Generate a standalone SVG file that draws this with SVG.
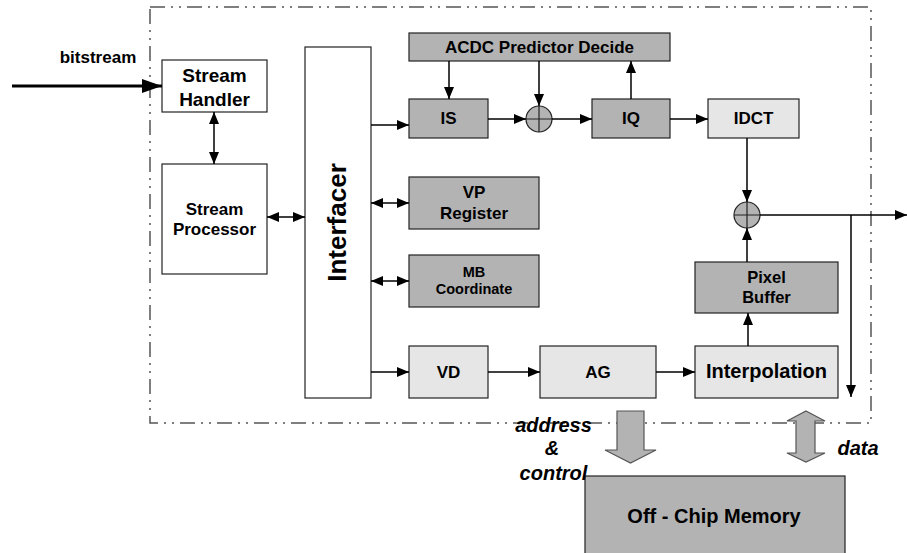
<svg xmlns="http://www.w3.org/2000/svg" width="907" height="553" viewBox="0 0 907 553">
<style>
text{font-family:"Liberation Sans",Arial,sans-serif;font-weight:bold;fill:#000;text-anchor:middle}
.box{stroke:#222;stroke-width:1.2}
.w{fill:#fff}.d{fill:#b3b3b3}.l{fill:#e6e6e6}
.c{stroke:#000;stroke-width:1.5;fill:none}
.a{marker-end:url(#ah)}
.b{marker-start:url(#ah);marker-end:url(#ah)}
.it{font-style:italic;font-size:20px}
.big{fill:#b3b3b3;stroke:#555;stroke-width:1.2}
</style>
<defs>
<marker id="ah" viewBox="0 0 12 10" refX="12" refY="5" markerWidth="12" markerHeight="10" markerUnits="userSpaceOnUse" orient="auto-start-reverse"><path d="M0,0 L12,5 L0,10 z" fill="#000"/></marker>
<marker id="ahb" viewBox="0 0 20 14" refX="20" refY="7" markerWidth="20" markerHeight="14" markerUnits="userSpaceOnUse" orient="auto"><path d="M0,0 L20,7 L0,14 z" fill="#000"/></marker>
</defs>
<rect x="0" y="0" width="907" height="553" fill="#fff"/>
<rect id="boundary" x="150" y="7" width="721" height="416" fill="none" stroke="#555" stroke-width="1.5" stroke-dasharray="15 6 2 6 2 6"/>

<g id="stream-handler"><rect class="box w" x="162" y="60" width="105" height="52"/><text x="214.5" y="81.5" font-size="19">Stream</text><text x="214.5" y="105.5" font-size="19">Handler</text></g>
<g id="stream-processor"><rect class="box w" x="162" y="164" width="105" height="110"/><text x="214.5" y="215" font-size="17">Stream</text><text x="214.5" y="235" font-size="17">Processor</text></g>
<g id="interfacer"><rect class="box w" x="305" y="47" width="66" height="351"/><text transform="translate(346,222.5) rotate(-90)" font-size="26">Interfacer</text></g>
<g id="acdc"><rect class="box d" x="409" y="33" width="261" height="28"/><text x="539.5" y="53" font-size="17">ACDC Predictor Decide</text></g>
<g id="is"><rect class="box d" x="409" y="99" width="79" height="39"/><text x="448.5" y="124" font-size="17">IS</text></g>
<g id="adder1"><circle cx="539" cy="119" r="13" fill="#b3b3b3" stroke="#222" stroke-width="1.2"/><path d="M526,119 H552 M539,106 V132" stroke="#222" stroke-width="1.2"/></g>
<g id="iq"><rect class="box d" x="592" y="99" width="78" height="39"/><text x="631" y="124" font-size="17">IQ</text></g>
<g id="idct"><rect class="box l" x="708" y="99" width="91" height="39"/><text x="753.5" y="124" font-size="17">IDCT</text></g>
<g id="vp-register"><rect class="box d" x="409" y="177" width="130" height="52"/><text x="474" y="198" font-size="17">VP</text><text x="474" y="219" font-size="17">Register</text></g>
<g id="mb-coordinate"><rect class="box d" x="409" y="255" width="130" height="52"/><text x="474" y="277" font-size="14.5">MB</text><text x="474" y="294" font-size="14.5">Coordinate</text></g>
<g id="vd"><rect class="box l" x="409" y="346" width="79" height="52"/><text x="448.5" y="378" font-size="17">VD</text></g>
<g id="ag"><rect class="box l" x="540" y="346" width="116" height="52"/><text x="598" y="378" font-size="17">AG</text></g>
<g id="interpolation"><rect class="box l" x="695" y="346" width="143" height="52"/><text x="766.5" y="378" font-size="20">Interpolation</text></g>
<g id="pixel-buffer"><rect class="box d" x="695" y="262" width="143" height="51"/><text x="766.5" y="283" font-size="16.5">Pixel</text><text x="766.5" y="303" font-size="16.5">Buffer</text></g>
<g id="adder2"><circle cx="747" cy="215" r="13" fill="#b3b3b3" stroke="#222" stroke-width="1.2"/><path d="M734,215 H760 M747,202 V228" stroke="#222" stroke-width="1.2"/></g>
<g id="off-chip-memory"><rect class="box d" x="585" y="476" width="260" height="80"/><text x="714" y="523" font-size="20">Off - Chip Memory</text></g>

<g id="connectors">
<path d="M12,86 H162" stroke="#000" stroke-width="3" fill="none" marker-end="url(#ahb)"/>
<path class="c b" d="M214,112 V164"/>
<path class="c b" d="M267,217 H305"/>
<path class="c a" d="M371,125 H409"/>
<path class="c b" d="M371,203 H409"/>
<path class="c b" d="M371,281 H409"/>
<path class="c a" d="M371,372 H409"/>
<path class="c a" d="M449,61 V99"/>
<path class="c a" d="M539,61 V106"/>
<path class="c a" d="M488,119 H526"/>
<path class="c a" d="M552,119 H592"/>
<path class="c a" d="M631,99 V61"/>
<path class="c a" d="M670,119 H708"/>
<path class="c a" d="M747,138 V202"/>
<path class="c a" d="M747,262 V228"/>
<path class="c a" d="M748,346 V313"/>
<path class="c a" d="M488,372 H540"/>
<path class="c a" d="M656,372 H695"/>
<path class="c a" d="M760,215 H907"/>
<path class="c a" d="M851,215 V397"/>
<polygon class="big" points="617,411 644,411 644,450 656,450 630.5,463 605,450 617,450"/>
<polygon class="big" points="806,411 825,421 815,421 815,453 825,453 806,462 787,453 796,453 796,421 787,421"/>
</g>

<g id="labels">
<text x="98" y="63" font-size="17">bitstream</text>
<text class="it" x="553.5" y="432">address</text>
<text class="it" x="552" y="455">&amp;</text>
<text class="it" x="553.5" y="480">control</text>
<text class="it" x="858" y="455">data</text>
</g>
</svg>
